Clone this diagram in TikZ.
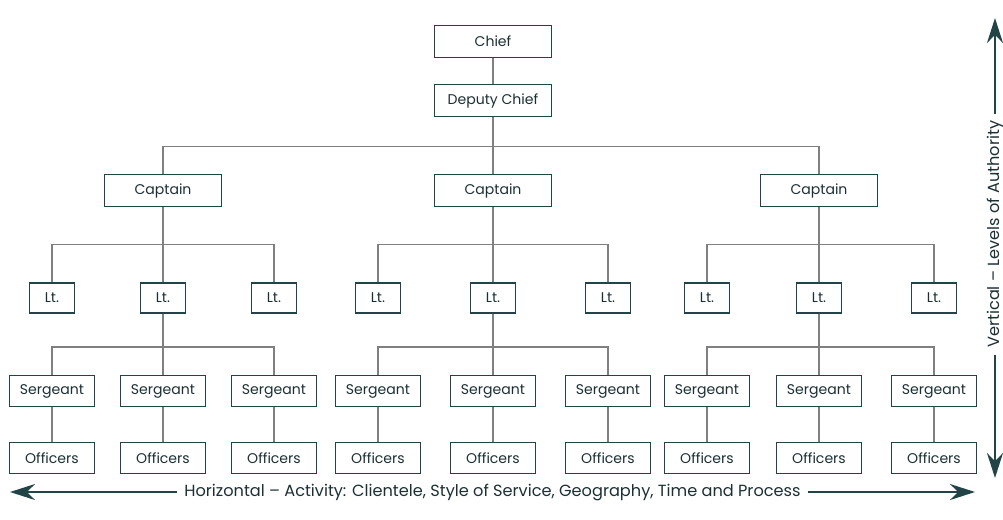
\documentclass[tikz,border=0pt]{standalone}
\usepackage{fontspec}
\setmainfont{Poppins}
\usepackage{tikz}
\usetikzlibrary{arrows.meta, positioning, calc}
\definecolor{boxteal}{RGB}{35, 68, 70}
\definecolor{linegray}{RGB}{128, 128, 128}
\definecolor{inkdark}{RGB}{28, 48, 52}

\begin{document}
\begin{tikzpicture}[
    on grid,
    font=\fontsize{8}{10}\selectfont,
    rank/.style={rectangle, minimum width=2.34cm, minimum height=0.64cm, text centered, draw=boxteal, line width=1.1pt, fill=white, text=inkdark},
    lt/.style={rectangle, minimum width=0.9cm, minimum height=0.6cm, text centered, draw=boxteal, line width=1.1pt, fill=white, text=inkdark},
    squad/.style={rectangle, minimum width=1.7cm, minimum height=0.62cm, text centered, draw=boxteal, line width=1.1pt, fill=white, text=inkdark},
    link/.style={draw=linegray, line width=0.8pt},
    axis/.style={draw=boxteal, line width=1.1pt, {Stealth[length=5mm, width=3.2mm]}-{Stealth[length=5mm, width=3.2mm]}},
    axislabel/.style={fill=white, text=inkdark, inner sep=4pt, font=\fontsize{9.2}{11}\selectfont}
]
\useasboundingbox (-9.86,0.83) rectangle (10.2,-9.55);

% command levels
\node (chief) [rank] {Chief};
\node (deputy) [rank, below=1.18cm of chief] {Deputy Chief};
\node (capM) [rank, below=1.8cm of deputy] {Captain};
\node (capL) [rank, left=6.6cm of capM] {Captain};
\node (capR) [rank, right=6.52cm of capM] {Captain};

% lieutenants
\node (ltL2) [lt, below=2.15cm of capL] {Lt.};
\node (ltL1) [lt, left=2.22cm of ltL2] {Lt.};
\node (ltL3) [lt, right=2.22cm of ltL2] {Lt.};
\node (ltM2) [lt, below=2.15cm of capM] {Lt.};
\node (ltM1) [lt, left=2.3cm of ltM2] {Lt.};
\node (ltM3) [lt, right=2.3cm of ltM2] {Lt.};
\node (ltR2) [lt, below=2.15cm of capR] {Lt.};
\node (ltR1) [lt, left=2.24cm of ltR2] {Lt.};
\node (ltR3) [lt, right=2.3cm of ltR2] {Lt.};

% sergeants
\node (sgL1) [squad, below=1.86cm of ltL1] {Sergeant};
\node (sgL2) [squad, below=1.86cm of ltL2] {Sergeant};
\node (sgL3) [squad, below=1.86cm of ltL3] {Sergeant};
\node (sgM1) [squad, below=1.86cm of ltM1] {Sergeant};
\node (sgM2) [squad, below=1.86cm of ltM2] {Sergeant};
\node (sgM3) [squad, below=1.86cm of ltM3] {Sergeant};
\node (sgR1) [squad, below=1.86cm of ltR1] {Sergeant};
\node (sgR2) [squad, below=1.86cm of ltR2] {Sergeant};
\node (sgR3) [squad, below=1.86cm of ltR3] {Sergeant};

% officers
\node (ofL1) [squad, below=1.34cm of sgL1] {Officers};
\node (ofL2) [squad, below=1.34cm of sgL2] {Officers};
\node (ofL3) [squad, below=1.34cm of sgL3] {Officers};
\node (ofM1) [squad, below=1.34cm of sgM1] {Officers};
\node (ofM2) [squad, below=1.34cm of sgM2] {Officers};
\node (ofM3) [squad, below=1.34cm of sgM3] {Officers};
\node (ofR1) [squad, below=1.34cm of sgR1] {Officers};
\node (ofR2) [squad, below=1.34cm of sgR2] {Officers};
\node (ofR3) [squad, below=1.34cm of sgR3] {Officers};

% bus points
\coordinate (bus) at ($(deputy.south)+(0,-0.58)$);
\coordinate (busL) at ($(capL.south)+(0,-0.74)$);
\coordinate (busM) at ($(capM.south)+(0,-0.74)$);
\coordinate (busR) at ($(capR.south)+(0,-0.74)$);
\coordinate (sbusL) at ($(ltL2.south)+(0,-0.66)$);
\coordinate (sbusM) at ($(ltM2.south)+(0,-0.66)$);
\coordinate (sbusR) at ($(ltR2.south)+(0,-0.66)$);

\draw [link] (chief) -- (deputy);
\draw [link] (deputy) -- (capM);
\draw [link] (bus) -| (capL);
\draw [link] (bus) -| (capR);

\draw [link] (capL) -- (ltL2);
\draw [link] (busL) -| (ltL1);
\draw [link] (busL) -| (ltL3);
\draw [link] (capM) -- (ltM2);
\draw [link] (busM) -| (ltM1);
\draw [link] (busM) -| (ltM3);
\draw [link] (capR) -- (ltR2);
\draw [link] (busR) -| (ltR1);
\draw [link] (busR) -| (ltR3);

\draw [link] (ltL2) -- (sgL2);
\draw [link] (sbusL) -| (sgL1);
\draw [link] (sbusL) -| (sgL3);
\draw [link] (ltM2) -- (sgM2);
\draw [link] (sbusM) -| (sgM1);
\draw [link] (sbusM) -| (sgM3);
\draw [link] (ltR2) -- (sgR2);
\draw [link] (sbusR) -| (sgR1);
\draw [link] (sbusR) -| (sgR3);

\draw [link] (sgL1) -- (ofL1);
\draw [link] (sgL2) -- (ofL2);
\draw [link] (sgL3) -- (ofL3);
\draw [link] (sgM1) -- (ofM1);
\draw [link] (sgM2) -- (ofM2);
\draw [link] (sgM3) -- (ofM3);
\draw [link] (sgR1) -- (ofR1);
\draw [link] (sgR2) -- (ofR2);
\draw [link] (sgR3) -- (ofR3);

% axes
\coordinate (vtop) at (10.04,0.47);
\coordinate (vbot) at (10.04,-8.73);
\coordinate (hleft) at (-9.66,-9.01);
\coordinate (hright) at (9.64,-9.01);
\draw [axis] (vtop) -- node [axislabel, rotate=90, pos=0.47] {Vertical -- Levels of Authority} (vbot);
\draw [axis] (hleft) -- node [axislabel] {Horizontal -- Activity: Clientele, Style of Service, Geography, Time and Process} (hright);

\end{tikzpicture}
\end{document}
